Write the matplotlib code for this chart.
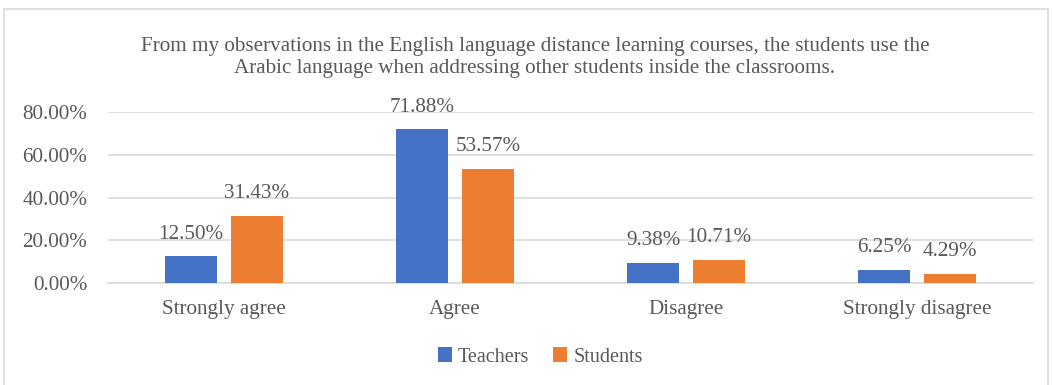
import matplotlib.pyplot as plt
import numpy as np
from matplotlib.patches import Rectangle
from matplotlib.ticker import PercentFormatter

plt.rcParams['font.family'] = ['Liberation Serif', 'DejaVu Serif']

# Survey answers
categories = ['Strongly agree', 'Agree', 'Disagree', 'Strongly disagree']
teachers = [12.50, 71.88, 9.38, 6.25]
students = [31.43, 53.57, 10.71, 4.29]
series_names = ['Teachers', 'Students']
title = ('From my observations in the English language distance learning courses, the students use the\n'
         'Arabic language when addressing other students inside the classrooms.')

blue = '#4472C4'
orange = '#ED7D31'
text_gray = '#595959'
grid_gray = '#d9d9d9'
fs = 15.2

fig = plt.figure(figsize=(10.53, 3.85), dpi=100)
ax = fig.add_axes([0.1026, 0.265, 0.8784, 0.444])

# Chart frame
fig.patches.append(Rectangle((4 / 1053, -0.02), 1044 / 1053, 1 - 9 / 385 + 0.02,
                             transform=fig.transFigure, fill=False,
                             edgecolor=grid_gray, linewidth=1.2))

x = np.arange(len(categories))
width = 0.225
offset = width / 2 + 0.03
b1 = ax.bar(x - offset, teachers, width, color=blue, label=series_names[0], zorder=3)
b2 = ax.bar(x + offset, students, width, color=orange, label=series_names[1], zorder=3)

for bars, vals in ((b1, teachers), (b2, students)):
    for rect, v in zip(bars, vals):
        ax.annotate(f'{v:.2f}%', (rect.get_x() + rect.get_width() / 2, v),
                    xytext=(0, 16), textcoords='offset points',
                    ha='center', va='center', fontsize=fs, color=text_gray,
                    annotation_clip=False)

ax.set_xlim(-0.5, 3.5)
ax.set_ylim(0, 80)
ax.set_yticks([0, 20, 40, 60, 80])
ax.yaxis.set_major_formatter(PercentFormatter(decimals=2))
ax.set_xticks(x)
ax.set_xticklabels(categories)
ax.tick_params(axis='both', length=0, labelsize=fs, colors=text_gray)
ax.tick_params(axis='y', pad=15)
ax.tick_params(axis='x', pad=12)
ax.grid(axis='y', color=grid_gray, linewidth=1.2, zorder=0)
ax.set_axisbelow(True)
for s in ['top', 'right', 'left']:
    ax.spines[s].set_visible(False)
ax.spines['bottom'].set_color(grid_gray)
ax.spines['bottom'].set_linewidth(1.2)

fig.text(0.508, 1 - 57.5 / 385, title, ha='center', va='center', fontsize=fs,
         color=text_gray, linespacing=1.2)

fig.legend(loc='center', bbox_to_anchor=(0.513, 1 - 357 / 385), ncol=2, frameon=False,
           fontsize=14.5, labelcolor=text_gray, handlelength=0.7, handleheight=0.7,
           handletextpad=0.3, columnspacing=1.2)

fig.savefig('out.png', dpi=100)
